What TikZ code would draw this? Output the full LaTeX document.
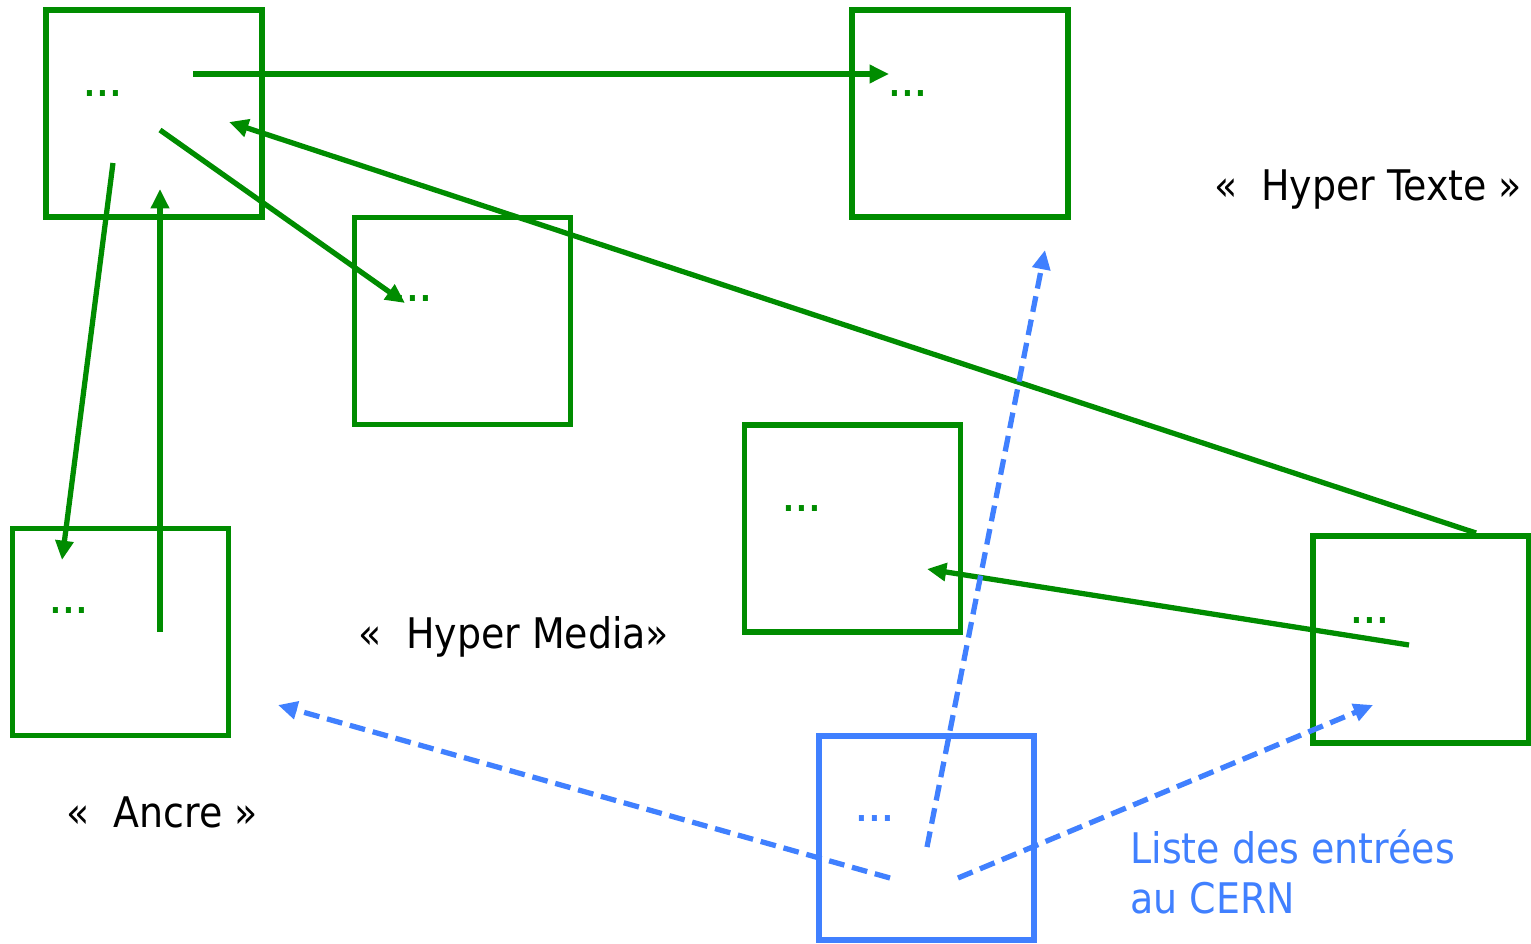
\documentclass[tikz,border=0pt]{standalone}
\usepackage{fontspec}
\setmainfont{DejaVu Sans Condensed}
\newfontfamily\dotsfont[LetterSpace=8]{DejaVu Sans Condensed}
\usetikzlibrary{arrows.meta}
\definecolor{gr}{RGB}{0,140,0}
\definecolor{bl}{RGB}{64,128,255}
\tikzset{
  box/.style={draw=gr, line width=3.3pt, minimum width=4.32cm, minimum height=4.14cm, inner sep=0pt},
  bbox/.style={draw=bl, line width=3.3pt, minimum width=4.3cm, minimum height=4.08cm, inner sep=0pt},
  dots/.style={text=gr, font=\dotsfont\bfseries\fontsize{18}{20}\selectfont, inner sep=0pt},
  garrow/.style={draw=gr, line width=3pt, -{Triangle[length=11pt,width=10pt]}},
  barrow/.style={draw=bl, line width=3pt, dash pattern=on 9pt off 4.5pt, -{Triangle[length=11pt,width=10pt]}},
  lbl/.style={font=\fontsize{24}{28}\selectfont, inner sep=0pt, anchor=base},
}
\begin{document}
\begin{tikzpicture}[x=0.02cm,y=-0.02cm]
\useasboundingbox (0,0) rectangle (1531,943);
% boxes
\node[box] (b1) at (154,113.5) {};
\node[box] (b2) at (960,113.5) {};
\node[box] (b3) at (462.5,321) {};
\node[box] (b4) at (852.5,528.5) {};
\node[box] (b5) at (120.5,632) {};
\node[box] (b6) at (1421,639.5) {};
\node[bbox] (b7) at (926.5,838) {};
% dots
\node[dots] (d1) at (103,94) {...};
\node[dots] (d2) at (908,94) {...};
\node[dots] (d3) at (413,299) {...};
\node[dots] (d4) at (802,509) {...};
\node[dots] (d5) at (69,611) {...};
\node[dots] (d6) at (1370,621) {...};
\node[dots, text=bl] (d7) at (875,819) {...};
% connector end points
\coordinate (s1) at (193,74);   \coordinate (t1) at (889,74);
\coordinate (s2) at (1476,533); \coordinate (t2) at (229,122);
\coordinate (s3) at (160,130);  \coordinate (t3) at (405,303);
\coordinate (s4) at (113,163);  \coordinate (t4) at (62,560);
\coordinate (s5) at (160,632);  \coordinate (t5) at (160,189);
\coordinate (s6) at (1409,645); \coordinate (t6) at (927,569);
\coordinate (u1) at (927,847);  \coordinate (v1) at (1045,250);
\coordinate (u2) at (890,878);  \coordinate (v2) at (278,705);
\coordinate (u3) at (958,878);  \coordinate (v3) at (1373,705);
% green arrows
\draw[garrow] (s1) -- (t1);
\draw[garrow] (s2) -- (t2);
\draw[garrow] (s3) -- (t3);
\draw[garrow] (s4) -- (t4);
\draw[garrow] (s5) -- (t5);
\draw[garrow] (s6) -- (t6);
% blue dashed arrows
\draw[barrow] (u1) -- (v1);
\draw[barrow] (u2) -- (v2);
\draw[barrow] (u3) -- (v3);
% labels
\node[lbl] (ht) at (1368,200) {«~~Hyper Texte »};
\node[lbl] (hm) at (514,648) {«~~Hyper Media»};
\node[lbl] (an) at (162,827) {«~~Ancre »};
\node[lbl, anchor=base west, text=bl, align=left] (li) at (1130,913) {Liste des entrées\\au CERN};
\end{tikzpicture}
\end{document}
